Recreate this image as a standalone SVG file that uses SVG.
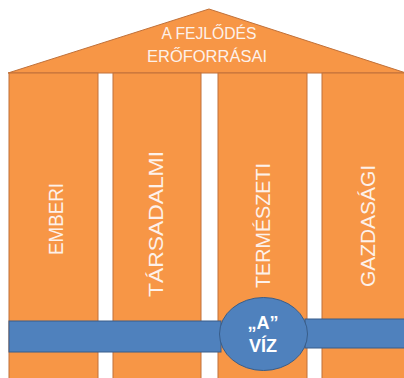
<svg xmlns="http://www.w3.org/2000/svg" width="404" height="378" viewBox="0 0 404 378">
  <style>
    .pillar { fill: #F79646; stroke: #C0713A; stroke-width: 1; }
    .band { fill: #4F81BD; stroke: #385D8A; stroke-width: 1; }
    .lbl { font-family: "Liberation Sans", Arial, sans-serif; fill: #FDF1EA; font-size: 21px; }
    .roof { font-family: "Liberation Sans", Arial, sans-serif; fill: #FDF1EA; font-size: 16px; text-anchor: middle; }
    .water { font-family: "Liberation Sans", Arial, sans-serif; fill: #FFFFFF; font-size: 18px; font-weight: bold; text-anchor: middle; }
  </style>
  <rect width="404" height="378" fill="#FFFFFF"/>
  <g id="roof">
    <polygon class="pillar" points="8,73 209,9 406,73"/>
    <text class="roof" x="209" y="39" textLength="95" lengthAdjust="spacingAndGlyphs">A FEJLŐDÉS</text>
    <text class="roof" x="207" y="62" textLength="120" lengthAdjust="spacingAndGlyphs">ERŐFORRÁSAI</text>
  </g>
  <g id="emberi">
    <rect class="pillar" x="9" y="73" width="89" height="310"/>
    <text class="lbl" transform="translate(62.5,219) rotate(-90)" text-anchor="middle" textLength="72" lengthAdjust="spacingAndGlyphs">EMBERI</text>
  </g>
  <g id="tarsadalmi">
    <rect class="pillar" x="113" y="73" width="88" height="310"/>
    <text class="lbl" transform="translate(163,224) rotate(-90)" text-anchor="middle" textLength="146" lengthAdjust="spacingAndGlyphs">TÁRSADALMI</text>
  </g>
  <g id="termeszeti">
    <rect class="pillar" x="218" y="73" width="89" height="310"/>
    <text class="lbl" transform="translate(270,225.5) rotate(-90)" text-anchor="middle" textLength="125" lengthAdjust="spacingAndGlyphs">TERMÉSZETI</text>
  </g>
  <g id="gazdasagi">
    <rect class="pillar" x="322" y="73" width="90" height="310"/>
    <text class="lbl" transform="translate(375,226) rotate(-90)" text-anchor="middle" textLength="122" lengthAdjust="spacingAndGlyphs">GAZDASÁGI</text>
  </g>
  <g id="connectors">
    <rect class="band" x="9" y="321" width="212" height="31"/>
    <rect class="band" x="305" y="319" width="105" height="29"/>
  </g>
  <g id="viz">
    <ellipse class="band" cx="263.5" cy="334" rx="44" ry="36.5"/>
    <text class="water" x="263" y="329">„A”</text>
    <text class="water" x="263" y="352">VÍZ</text>
  </g>
</svg>
